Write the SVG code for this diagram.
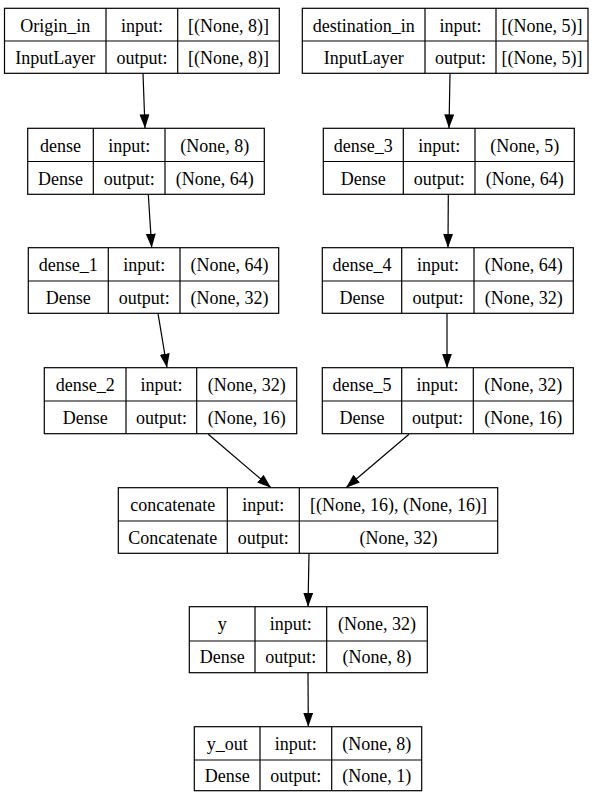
<svg xmlns="http://www.w3.org/2000/svg" width="593" height="792" viewBox="0 0 593 792">
<style>
.b{fill:#fff;stroke:#000;stroke-width:1.2}
.l{stroke:#000;stroke-width:1.2;fill:none}
.c{stroke:#000;stroke-width:1.2;fill:none;marker-end:url(#ah)}
</style>
<defs>
<marker id="ah" markerUnits="userSpaceOnUse" markerWidth="15" markerHeight="11" refX="14" refY="5" orient="auto">
<path d="M0,0 L14,5 L0,10 z" fill="#000"/>
</marker>
</defs>
<rect width="593" height="792" fill="#fff"/>
<g id="connectors">
<line class="c" x1="143" y1="73.3" x2="145" y2="128.3"/>
<line class="c" x1="450" y1="73.3" x2="449" y2="128.3"/>
<line class="c" x1="148.3" y1="194.3" x2="151.7" y2="247.7"/>
<line class="c" x1="448.3" y1="194.3" x2="448" y2="247.7"/>
<line class="c" x1="158" y1="313.3" x2="167" y2="367.7"/>
<line class="c" x1="447" y1="313.3" x2="447" y2="367.7"/>
<line class="c" x1="208.3" y1="434.3" x2="271" y2="487.7"/>
<line class="c" x1="409" y1="434.3" x2="346" y2="487.7"/>
<line class="c" x1="309" y1="553.3" x2="308" y2="606.7"/>
<line class="c" x1="308" y1="672.7" x2="308.3" y2="726.7"/>
</g>
<g text-anchor="middle" fill="#000">
<g id="Origin_in">
<rect class="b" x="4.5" y="8.3" width="274.8" height="65"/>
<path class="l" d="M4.5,41H279.3M106,8.3V73.3M177.7,8.3V73.3"/>
<text font-family="'Liberation Serif'" font-size="18" x="55.2" y="31.5">Origin_in</text><text font-family="'Liberation Serif'" font-size="18" x="141.9" y="31.5">input:</text><text font-family="'Liberation Serif'" font-size="18" x="228.5" y="31.5">[(None, 8)]</text>
<text font-family="'Liberation Serif'" font-size="18" x="55.2" y="64">InputLayer</text><text font-family="'Liberation Serif'" font-size="18" x="141.9" y="64">output:</text><text font-family="'Liberation Serif'" font-size="18" x="228.5" y="64">[(None, 8)]</text>
</g>
<g id="destination_in">
<rect class="b" x="302.3" y="8.3" width="285.7" height="65"/>
<path class="l" d="M302.3,41H588M425,8.3V73.3M496,8.3V73.3"/>
<text font-family="'Liberation Serif'" font-size="18" x="363.7" y="31.5">destination_in</text><text font-family="'Liberation Serif'" font-size="18" x="460.5" y="31.5">input:</text><text font-family="'Liberation Serif'" font-size="18" x="542" y="31.5">[(None, 5)]</text>
<text font-family="'Liberation Serif'" font-size="18" x="363.7" y="64">InputLayer</text><text font-family="'Liberation Serif'" font-size="18" x="460.5" y="64">output:</text><text font-family="'Liberation Serif'" font-size="18" x="542" y="64">[(None, 5)]</text>
</g>
<g id="dense">
<rect class="b" x="27.7" y="128.3" width="236.6" height="66"/>
<path class="l" d="M27.7,161.5H264.3M93.3,128.3V194.3M165,128.3V194.3"/>
<text font-family="'Liberation Serif'" font-size="18" x="60.5" y="151.5">dense</text><text font-family="'Liberation Serif'" font-size="18" x="129.2" y="151.5">input:</text><text font-family="'Liberation Serif'" font-size="18" x="214.7" y="151.5">(None, 8)</text>
<text font-family="'Liberation Serif'" font-size="18" x="60.5" y="184.5">Dense</text><text font-family="'Liberation Serif'" font-size="18" x="129.2" y="184.5">output:</text><text font-family="'Liberation Serif'" font-size="18" x="214.7" y="184.5">(None, 64)</text>
</g>
<g id="dense_3">
<rect class="b" x="323.3" y="128.3" width="251" height="66"/>
<path class="l" d="M323.3,161.5H574.3M403.3,128.3V194.3M475,128.3V194.3"/>
<text font-family="'Liberation Serif'" font-size="18" x="363.3" y="151.5">dense_3</text><text font-family="'Liberation Serif'" font-size="18" x="439.2" y="151.5">input:</text><text font-family="'Liberation Serif'" font-size="18" x="524.7" y="151.5">(None, 5)</text>
<text font-family="'Liberation Serif'" font-size="18" x="363.3" y="184.5">Dense</text><text font-family="'Liberation Serif'" font-size="18" x="439.2" y="184.5">output:</text><text font-family="'Liberation Serif'" font-size="18" x="524.7" y="184.5">(None, 64)</text>
</g>
<g id="dense_1">
<rect class="b" x="28.3" y="247.7" width="250.4" height="65.6"/>
<path class="l" d="M28.3,281H278.7M108.3,247.7V313.3M180,247.7V313.3"/>
<text font-family="'Liberation Serif'" font-size="18" x="68.3" y="271">dense_1</text><text font-family="'Liberation Serif'" font-size="18" x="144.2" y="271">input:</text><text font-family="'Liberation Serif'" font-size="18" x="229.4" y="271">(None, 64)</text>
<text font-family="'Liberation Serif'" font-size="18" x="68.3" y="304">Dense</text><text font-family="'Liberation Serif'" font-size="18" x="144.2" y="304">output:</text><text font-family="'Liberation Serif'" font-size="18" x="229.4" y="304">(None, 32)</text>
</g>
<g id="dense_4">
<rect class="b" x="322.3" y="247.7" width="251" height="65.6"/>
<path class="l" d="M322.3,281H573.3M401.7,247.7V313.3M474,247.7V313.3"/>
<text font-family="'Liberation Serif'" font-size="18" x="362" y="271">dense_4</text><text font-family="'Liberation Serif'" font-size="18" x="437.9" y="271">input:</text><text font-family="'Liberation Serif'" font-size="18" x="523.7" y="271">(None, 64)</text>
<text font-family="'Liberation Serif'" font-size="18" x="362" y="304">Dense</text><text font-family="'Liberation Serif'" font-size="18" x="437.9" y="304">output:</text><text font-family="'Liberation Serif'" font-size="18" x="523.7" y="304">(None, 32)</text>
</g>
<g id="dense_2">
<rect class="b" x="44.3" y="367.7" width="252.4" height="66"/>
<path class="l" d="M44.3,401H296.7M126,367.7V433.7M196.7,367.7V433.7"/>
<text font-family="'Liberation Serif'" font-size="18" x="85.2" y="391">dense_2</text><text font-family="'Liberation Serif'" font-size="18" x="161.4" y="391">input:</text><text font-family="'Liberation Serif'" font-size="18" x="246.7" y="391">(None, 32)</text>
<text font-family="'Liberation Serif'" font-size="18" x="85.2" y="424">Dense</text><text font-family="'Liberation Serif'" font-size="18" x="161.4" y="424">output:</text><text font-family="'Liberation Serif'" font-size="18" x="246.7" y="424">(None, 16)</text>
</g>
<g id="dense_5">
<rect class="b" x="322.3" y="367.7" width="251" height="66"/>
<path class="l" d="M322.3,401H573.3M401.7,367.7V433.7M473.3,367.7V433.7"/>
<text font-family="'Liberation Serif'" font-size="18" x="362" y="391">dense_5</text><text font-family="'Liberation Serif'" font-size="18" x="437.5" y="391">input:</text><text font-family="'Liberation Serif'" font-size="18" x="523.3" y="391">(None, 32)</text>
<text font-family="'Liberation Serif'" font-size="18" x="362" y="424">Dense</text><text font-family="'Liberation Serif'" font-size="18" x="437.5" y="424">output:</text><text font-family="'Liberation Serif'" font-size="18" x="523.3" y="424">(None, 16)</text>
</g>
<g id="concatenate">
<rect class="b" x="118.3" y="487.7" width="379.4" height="65.6"/>
<path class="l" d="M118.3,521H497.7M227.3,487.7V553.3M299.3,487.7V553.3"/>
<text font-family="'Liberation Serif'" font-size="18" x="172.8" y="511">concatenate</text><text font-family="'Liberation Serif'" font-size="18" x="263.3" y="511">input:</text><text font-family="'Liberation Serif'" font-size="18" x="398.5" y="511">[(None, 16), (None, 16)]</text>
<text font-family="'Liberation Serif'" font-size="18" x="172.8" y="544">Concatenate</text><text font-family="'Liberation Serif'" font-size="18" x="263.3" y="544">output:</text><text font-family="'Liberation Serif'" font-size="18" x="398.5" y="544">(None, 32)</text>
</g>
<g id="y">
<rect class="b" x="189.3" y="606.7" width="238" height="66"/>
<path class="l" d="M189.3,641H427.3M255,606.7V672.7M326.7,606.7V672.7"/>
<text font-family="'Liberation Serif'" font-size="18" x="222.2" y="630">y</text><text font-family="'Liberation Serif'" font-size="18" x="290.8" y="630">input:</text><text font-family="'Liberation Serif'" font-size="18" x="377" y="630">(None, 32)</text>
<text font-family="'Liberation Serif'" font-size="18" x="222.2" y="663">Dense</text><text font-family="'Liberation Serif'" font-size="18" x="290.8" y="663">output:</text><text font-family="'Liberation Serif'" font-size="18" x="377" y="663">(None, 8)</text>
</g>
<g id="y_out">
<rect class="b" x="194.3" y="726.7" width="227.4" height="64"/>
<path class="l" d="M194.3,760H421.7M260,726.7V790.7M331.7,726.7V790.7"/>
<text font-family="'Liberation Serif'" font-size="18" x="227.2" y="749.5">y_out</text><text font-family="'Liberation Serif'" font-size="18" x="295.8" y="749.5">input:</text><text font-family="'Liberation Serif'" font-size="18" x="376.7" y="749.5">(None, 8)</text>
<text font-family="'Liberation Serif'" font-size="18" x="227.2" y="781.5">Dense</text><text font-family="'Liberation Serif'" font-size="18" x="295.8" y="781.5">output:</text><text font-family="'Liberation Serif'" font-size="18" x="376.7" y="781.5">(None, 1)</text>
</g>
</g>
</svg>
